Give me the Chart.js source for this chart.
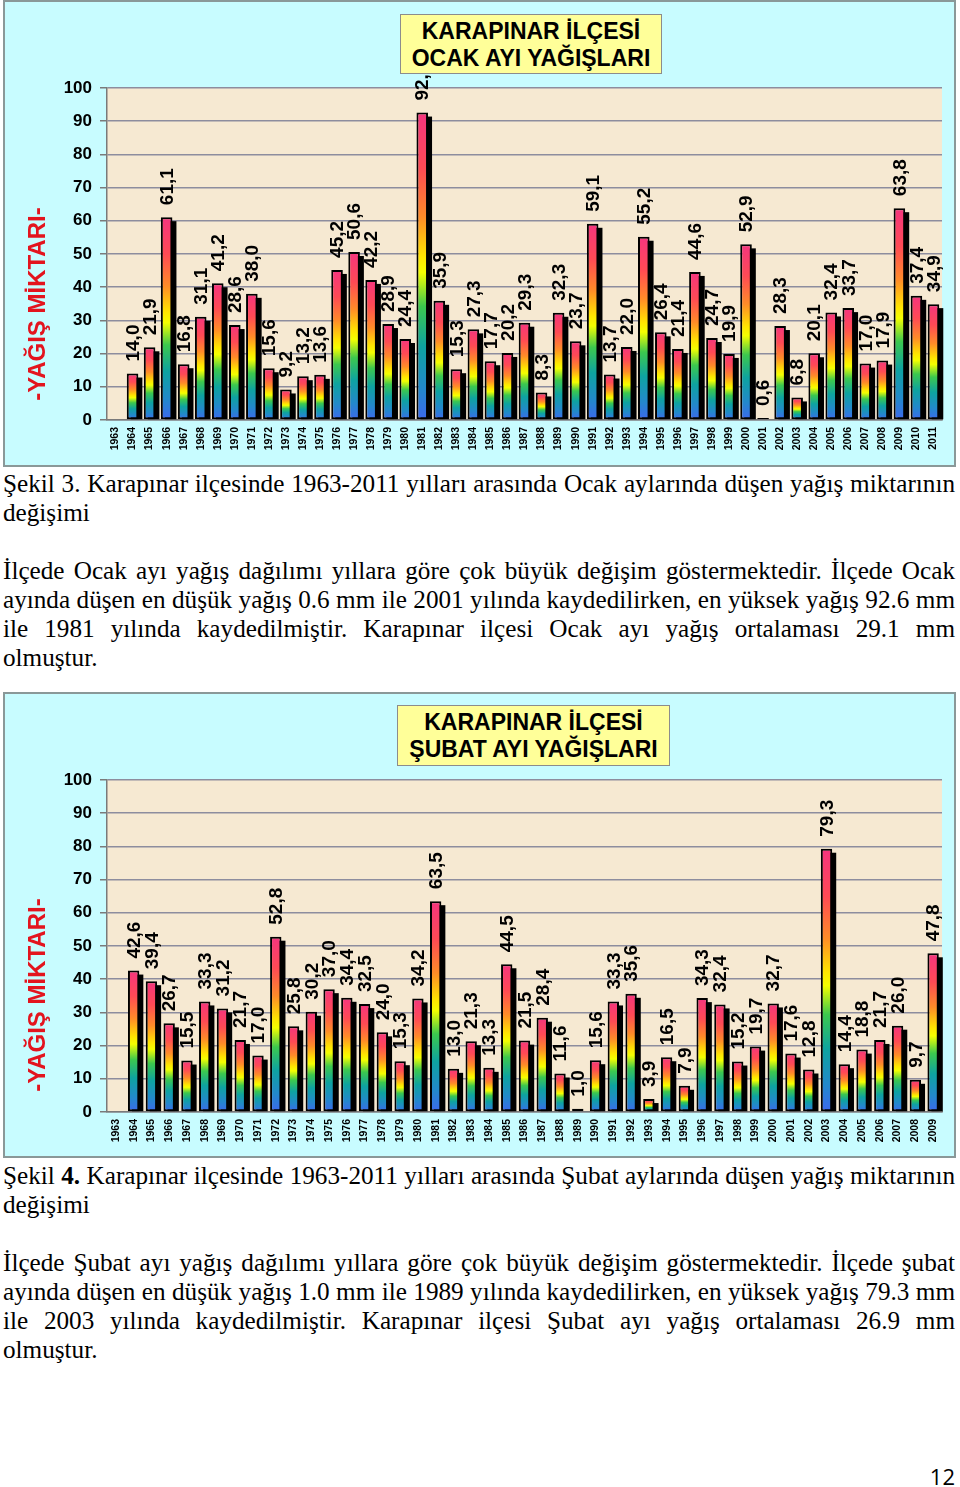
<!DOCTYPE html>
<html>
<head>
<meta charset="utf-8">
<script src="https://cdn.jsdelivr.net/npm/chart.js@4.4.1/dist/chart.umd.min.js"></script>
<style>
  body { margin: 0; background: #fff; width: 960px; height: 1487px; position: relative; overflow: hidden; }
  .frame { position: absolute; left: 3px; width: 953px; box-sizing: border-box; border: 2px solid #8a9898; background: #c8fcff; }
  canvas { position: absolute; left: 3px; }
  .kutu { position: absolute; box-sizing: border-box; background: #ffff99; border: 1.5px solid #8c8c8c;
          font: bold 23px "Liberation Sans", Arial, sans-serif; line-height: 27px; text-align: center; padding-top: 3px; color: #000; }
  .satir { position: absolute; left: 3px; width: 952px; font: 25.2px "Liberation Serif", "Times New Roman", serif;
           line-height: 29px; white-space: nowrap; color: #000; }
  .j { text-align: justify; text-align-last: justify; }
  .sayfa { position: absolute; right: 5px; top: 1461px; font: 22px "Open Sans", "Liberation Sans", sans-serif; }
</style>
</head>
<body>

<div class="frame" style="top:0; height:467px;"></div>
<canvas id="ocakChart" width="953" height="467" style="top:0"></canvas>
<div class="kutu" style="left:400px; top:14px; width:262px; height:60px;">KARAPINAR İLÇESİ<br>OCAK AYI YAĞIŞLARI</div>

<div class="satir j" style="top:469px;">Şekil 3. Karapınar ilçesinde 1963-2011 yılları arasında Ocak aylarında düşen yağış miktarının</div>
<div class="satir" style="top:498px;">değişimi</div>

<div class="satir j" style="top:556px;">İlçede Ocak ayı yağış dağılımı yıllara göre çok büyük değişim göstermektedir. İlçede Ocak</div>
<div class="satir j" style="top:585px;">ayında düşen en düşük yağış 0.6 mm ile 2001 yılında kaydedilirken, en yüksek yağış 92.6 mm</div>
<div class="satir j" style="top:614px;">ile 1981 yılında kaydedilmiştir.  Karapınar ilçesi Ocak ayı yağış ortalaması 29.1 mm</div>
<div class="satir" style="top:643px;">olmuştur.</div>

<div class="frame" style="top:692px; height:466px;"></div>
<canvas id="subatChart" width="953" height="466" style="top:692px"></canvas>
<div class="kutu" style="left:397px; top:705px; width:273px; height:61px;">KARAPINAR İLÇESİ<br>ŞUBAT AYI YAĞIŞLARI</div>

<div class="satir j" style="top:1161px;">Şekil <b>4.</b> Karapınar ilçesinde 1963-2011 yılları arasında Şubat aylarında düşen yağış miktarının</div>
<div class="satir" style="top:1190px;">değişimi</div>

<div class="satir j" style="top:1248px;">İlçede Şubat ayı yağış dağılımı yıllara göre çok büyük değişim göstermektedir. İlçede şubat</div>
<div class="satir j" style="top:1277px;">ayında düşen en düşük yağış 1.0 mm ile 1989 yılında kaydedilirken, en yüksek yağış 79.3 mm</div>
<div class="satir j" style="top:1306px;">ile 2003 yılında kaydedilmiştir.  Karapınar ilçesi Şubat ayı yağış ortalaması 26.9 mm</div>
<div class="satir" style="top:1335px;">olmuştur.</div>

<div class="sayfa">12</div>

<script>
// Ocak (January) precipitation, mm
const ocakYillar = ['1963','1964','1965','1966','1967','1968','1969','1970','1971','1972',
  '1973','1974','1975','1976','1977','1978','1979','1980','1981','1982','1983','1984','1985',
  '1986','1987','1988','1989','1990','1991','1992','1993','1994','1995','1996','1997','1998',
  '1999','2000','2001','2002','2003','2004','2005','2006','2007','2008','2009','2010','2011'];
const ocakYagis = [null, 14.0, 21.9, 61.1, 16.8, 31.1, 41.2, 28.6, 38.0, 15.6,
  9.2, 13.2, 13.6, 45.2, 50.6, 42.2, 28.9, 24.4, 92.6, 35.9, 15.3, 27.3, 17.7,
  20.2, 29.3, 8.3, 32.3, 23.7, 59.1, 13.7, 22.0, 55.2, 26.4, 21.4, 44.6, 24.7,
  19.9, 52.9, 0.6, 28.3, 6.8, 20.1, 32.4, 33.7, 17.0, 17.9, 63.8, 37.4, 34.9];

// Şubat (February) precipitation, mm
const subatYillar = ['1963','1964','1965','1966','1967','1968','1969','1970','1971','1972',
  '1973','1974','1975','1976','1977','1978','1979','1980','1981','1982','1983','1984','1985',
  '1986','1987','1988','1989','1990','1991','1992','1993','1994','1995','1996','1997','1998',
  '1999','2000','2001','2002','2003','2004','2005','2006','2007','2008','2009'];
const subatYagis = [null, 42.6, 39.4, 26.7, 15.5, 33.3, 31.2, 21.7, 17.0, 52.8,
  25.8, 30.2, 37.0, 34.4, 32.5, 24.0, 15.3, 34.2, 63.5, 13.0, 21.3, 13.3, 44.5,
  21.5, 28.4, 11.6, 1.0, 15.6, 33.3, 35.6, 3.9, 16.5, 7.9, 34.3, 32.4, 15.2,
  19.7, 32.7, 17.6, 12.8, 79.3, 14.4, 18.8, 21.7, 26.0, 9.7, 47.8];

const eksenBasligi = '-YAĞIŞ MİKTARI-';
const yaziTipi = '"Liberation Sans", Arial, sans-serif';

// rainbow fill, one gradient per bar (top pink -> bottom blue)
function gokkusagi(context) {
  const chart = context.chart;
  const v = context.raw;
  const y = chart.scales && chart.scales.y;
  if (v == null || !y) return '#f0407a';
  const top = y.getPixelForValue(v);
  const base = y.getPixelForValue(0);
  if (!isFinite(top) || !isFinite(base) || base - top < 1) return '#ffd000';
  const g = chart.ctx.createLinearGradient(0, top, 0, base);
  g.addColorStop(0, '#f5357f');
  g.addColorStop(0.18, '#ff4a55');
  g.addColorStop(0.34, '#ff8c28');
  g.addColorStop(0.47, '#ffe600');
  g.addColorStop(0.52, '#f4ff00');
  g.addColorStop(0.63, '#3cc84e');
  g.addColorStop(0.76, '#0ea3a0');
  g.addColorStop(0.9, '#2388cc');
  g.addColorStop(1, '#3d68ee');
  return g;
}

// parchment plot background
const zeminPlugin = {
  id: 'zemin',
  beforeDraw(chart) {
    const a = chart.chartArea, ctx = chart.ctx;
    ctx.save();
    ctx.fillStyle = '#f6e9d2';
    ctx.fillRect(a.left, a.top, a.right - a.left, a.bottom - a.top);
    ctx.restore();
  }
};

// black drop shadow behind each bar
const golgePlugin = {
  id: 'golge',
  beforeDatasetsDraw(chart) {
    const ctx = chart.ctx;
    const meta = chart.getDatasetMeta(0);
    ctx.save();
    ctx.fillStyle = '#000';
    meta.data.forEach((bar, i) => {
      if (chart.data.datasets[0].data[i] == null) return;
      const h = bar.base - bar.y - 4;
      if (h <= 0) return;
      ctx.fillRect(bar.x - bar.width / 2 + 4, bar.y + 4, bar.width, h);
    });
    ctx.restore();
  }
};

// vertical value labels with comma decimals
const etiketPlugin = {
  id: 'etiket',
  afterDatasetsDraw(chart) {
    const ctx = chart.ctx;
    const meta = chart.getDatasetMeta(0);
    const data = chart.data.datasets[0].data;
    ctx.save();
    ctx.fillStyle = '#000';
    ctx.font = 'bold 19px ' + yaziTipi;
    ctx.textAlign = 'left';
    ctx.textBaseline = 'middle';
    meta.data.forEach((bar, i) => {
      if (data[i] == null) return;
      ctx.save();
      ctx.translate(bar.x + 1, bar.y - 12);
      ctx.rotate(-Math.PI / 2);
      ctx.fillText(data[i].toFixed(1).replace('.', ','), 0, 0);
      ctx.restore();
    });
    ctx.restore();
  }
};

// red axis title, sitting a bit below the plot centre like the original
const baslikPlugin = {
  id: 'baslik',
  afterDraw(chart) {
    const ctx = chart.ctx;
    ctx.save();
    ctx.translate(35, chart.options.baslikY);
    ctx.rotate(-Math.PI / 2);
    ctx.fillStyle = '#e3141e';
    ctx.font = 'bold 24px ' + yaziTipi;
    ctx.textAlign = 'center';
    ctx.textBaseline = 'middle';
    ctx.fillText(eksenBasligi, 0, 0);
    ctx.restore();
  }
};

function grafikYap(id, yillar, degerler, barPct, xYukseklik, baslikY) {
  return new Chart(document.getElementById(id), {
    type: 'bar',
    data: {
      labels: yillar,
      datasets: [{
        data: degerler,
        backgroundColor: gokkusagi,
        borderColor: '#000',
        borderWidth: 2,
        borderSkipped: false,
        barPercentage: barPct,
        categoryPercentage: 1
      }]
    },
    options: {
      responsive: false,
      animation: false,
      devicePixelRatio: 1,
      baslikY: baslikY,
      layout: { padding: { top: 88, right: 14, left: 0, bottom: 0 } },
      plugins: {
        legend: { display: false },
        tooltip: { enabled: false },
        title: { display: false }
      },
      scales: {
        x: {
          afterFit(scale) { scale.height = xYukseklik; },
          grid: { display: false, drawTicks: false },
          border: { display: true, color: '#7a7a7a', width: 1.5 },
          ticks: {
            color: '#000',
            font: { family: yaziTipi, size: 10.5, weight: 'bold' },
            minRotation: 90,
            maxRotation: 90,
            autoSkip: false,
            padding: 7
          }
        },
        y: {
          min: 0,
          max: 100,
          afterFit(scale) { scale.width = 104; },
          grid: { color: '#8d8d9e', lineWidth: 1.5, tickLength: 7, tickColor: '#7a7a7a' },
          border: { display: true, color: '#7a7a7a', width: 1.5 },
          ticks: {
            stepSize: 10,
            color: '#000',
            padding: 8,
            font: { family: yaziTipi, size: 17, weight: 'bold' }
          }
        }
      }
    },
    plugins: [zeminPlugin, golgePlugin, etiketPlugin, baslikPlugin]
  });
}

const ocakChart = grafikYap('ocakChart', ocakYillar, ocakYagis, 0.68, 47, 304);
const subatChart = grafikYap('subatChart', subatYillar, subatYagis, 0.64, 46, 303);
</script>
</body>
</html>
